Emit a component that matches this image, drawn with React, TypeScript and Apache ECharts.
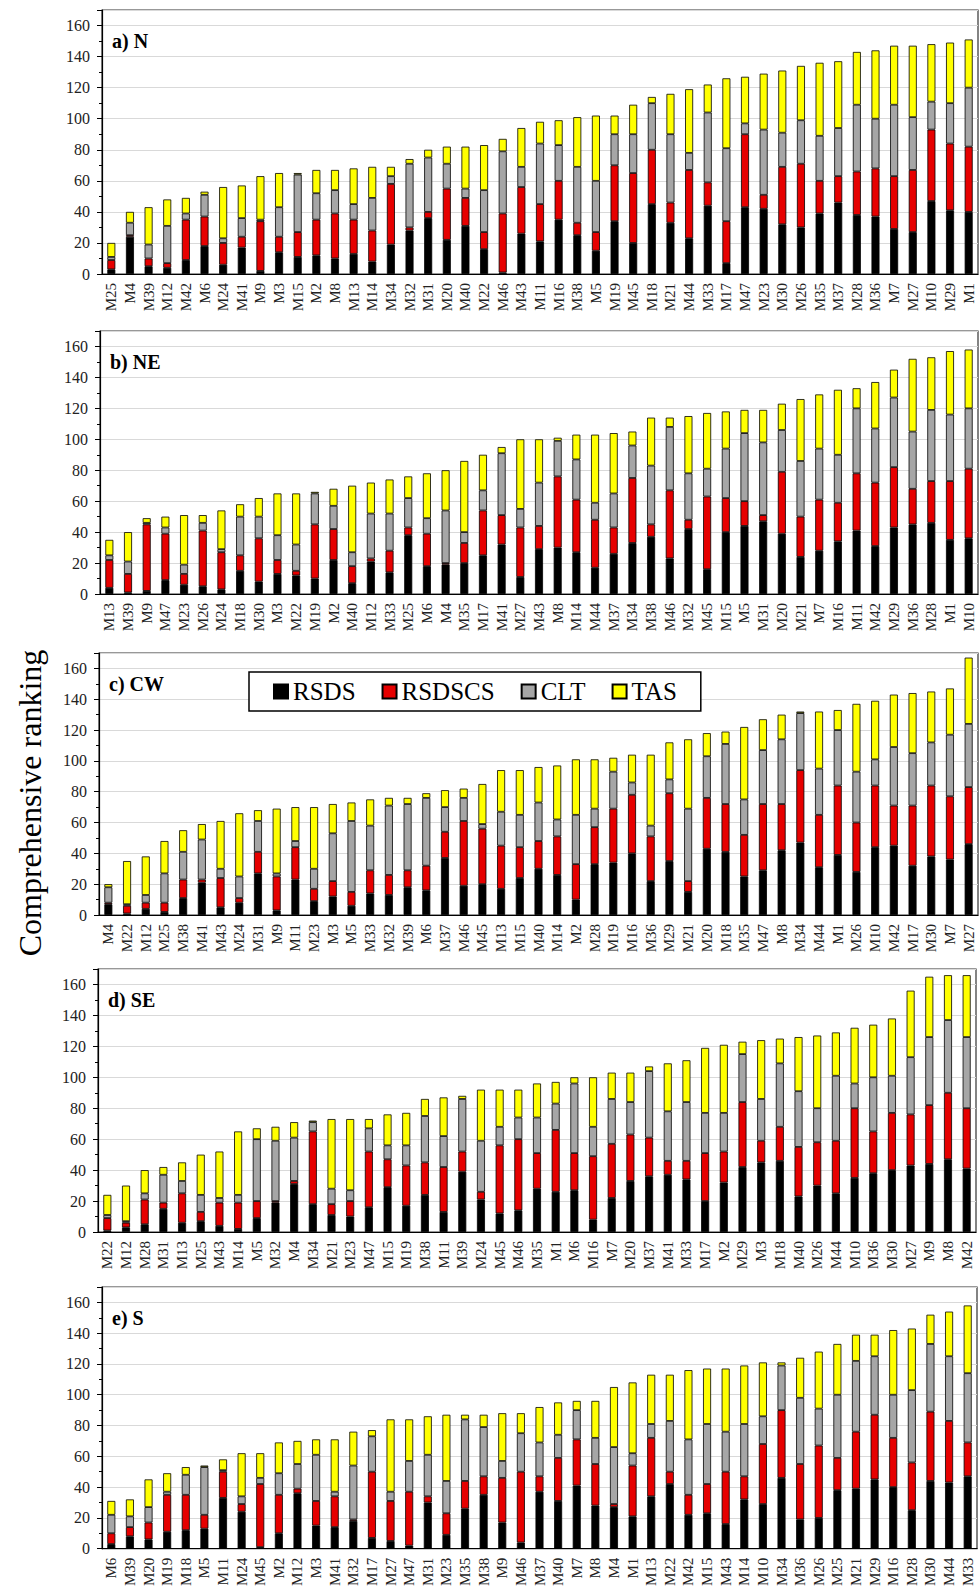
import React, { useEffect, useRef } from "react";
import * as echarts from "echarts";

// ---------- Data (rank contributions, stacked) ----------
// a) N
const catsN = ["M25","M4","M39","M12","M42","M6","M24","M41","M9","M3","M15","M2","M8","M13","M14","M34","M32","M31","M20","M40","M22","M46","M43","M11","M16","M38","M5","M19","M45","M18","M21","M44","M33","M17","M47","M23","M30","M26","M35","M37","M28","M36","M7","M27","M10","M29","M1"];
const rsdsN = [3,24,5,4,9,18,6,17,2,14,11,12,10,13,8,19,28,36,22,31,16,1,26,21,35,25,15,34,20,45,33,23,44,7,43,42,32,30,39,46,38,37,29,27,47,41,40];
const rsdscsN = [6,1,5,3,26,19,14,7,32,10,16,23,29,22,20,39,2,4,33,18,11,38,30,24,25,8,12,36,45,35,13,44,15,27,47,9,37,41,21,17,28,31,34,40,46,43,42];
const cltN = [2,8,9,24,4,14,3,12,1,19,37,17,15,10,21,5,41,35,16,6,27,40,13,39,23,36,33,20,25,30,44,11,45,47,7,42,22,28,29,31,43,32,46,34,18,26,38];
const tasN = [9,7,24,17,10,2,33,21,28,22,1,15,13,23,20,6,3,5,11,27,29,8,25,14,16,32,42,12,19,4,26,41,18,45,30,36,40,35,47,43,34,44,38,46,37,39,31];

// b) NE
const catsNE = ["M13","M39","M9","M47","M23","M26","M24","M18","M30","M3","M22","M19","M2","M40","M12","M33","M25","M6","M4","M35","M17","M41","M27","M43","M8","M14","M44","M37","M34","M38","M46","M32","M45","M15","M5","M31","M20","M21","M7","M16","M11","M42","M29","M36","M28","M1","M10"];
const rsdsNE = [4,1,2,9,6,5,3,15,8,13,12,10,22,7,21,14,38,18,19,20,25,32,11,29,30,27,17,26,33,37,23,42,16,40,44,47,39,24,28,34,41,31,43,45,46,35,36];
const rsdscsNE = [18,12,43,30,7,36,24,10,28,9,3,35,20,11,2,14,5,21,1,13,29,19,32,15,46,34,31,17,42,8,44,6,47,22,16,4,40,26,33,25,37,41,39,23,27,38,45];
const cltNE = [3,8,1,4,6,5,2,25,14,16,17,20,15,9,29,24,19,10,34,7,13,40,12,28,23,26,11,22,21,38,41,30,18,32,44,47,27,36,33,31,42,35,45,37,46,43,39];
const tasNE = [10,19,3,7,32,5,25,8,12,27,33,1,11,43,20,22,14,29,26,46,23,4,45,28,2,16,44,39,9,31,6,37,36,24,15,21,17,40,35,42,13,30,18,47,34,41,38];

// c) CW
const catsCW = ["M4","M22","M12","M25","M38","M41","M43","M24","M31","M9","M11","M23","M3","M5","M33","M32","M39","M6","M37","M46","M45","M13","M15","M40","M14","M2","M28","M19","M16","M36","M29","M21","M20","M18","M35","M47","M8","M34","M44","M1","M26","M10","M42","M17","M30","M7","M27"];
const rsdsCW = [7,1,4,2,11,21,5,8,27,3,23,9,12,6,14,13,18,16,37,19,20,17,24,30,26,10,33,34,40,22,35,15,43,41,25,29,42,47,31,39,28,44,45,32,38,36,46];
const rsdscsCW = [1,5,4,6,12,2,19,3,14,22,21,8,10,9,15,13,11,16,17,42,36,28,20,18,25,23,24,35,38,29,44,7,33,31,27,43,30,47,34,45,32,40,26,39,46,41,37];
const cltCW = [10,1,5,19,18,26,6,14,20,2,4,13,31,46,29,45,43,44,16,15,3,22,21,25,11,32,12,24,8,7,9,47,27,39,23,35,42,37,30,36,33,17,38,34,28,40,41];
const tasCW = [2,28,25,21,14,10,31,41,7,42,22,40,19,12,17,5,4,3,11,6,26,27,29,23,35,36,32,9,18,46,24,45,15,8,47,20,16,1,37,13,44,38,34,39,33,30,43];

// d) SE
const catsSE = ["M22","M12","M28","M31","M13","M25","M43","M14","M5","M32","M4","M34","M21","M23","M47","M15","M19","M38","M11","M39","M24","M45","M46","M35","M1","M6","M16","M7","M20","M37","M41","M33","M17","M2","M29","M3","M18","M40","M26","M44","M10","M36","M30","M27","M9","M8","M42"];
const rsdsSE = [1,3,5,15,6,7,4,2,9,19,31,18,11,10,16,29,17,24,13,39,21,12,14,28,26,27,8,22,33,36,37,34,20,32,42,45,46,23,30,25,35,38,40,43,44,47,41];
const rsdscsSE = [8,3,16,4,19,6,15,17,11,1,2,47,7,10,36,18,26,21,29,13,5,44,46,23,40,24,41,35,30,25,9,12,31,20,42,14,22,32,28,34,45,27,37,33,38,43,39];
const cltSE = [2,1,4,18,8,11,3,5,40,39,28,6,10,7,15,9,13,30,20,34,33,12,14,23,17,45,19,29,21,43,32,38,26,25,31,27,41,36,22,42,16,35,24,37,44,47,46];
const tasSE = [13,23,15,5,12,26,30,41,7,9,10,1,45,46,6,20,21,11,25,2,33,24,18,22,14,4,32,17,19,3,31,27,42,44,8,38,16,35,47,28,36,34,37,43,39,29,40];

// e) S
const catsS = ["M6","M39","M20","M19","M18","M5","M11","M24","M45","M2","M12","M3","M41","M32","M17","M27","M47","M31","M23","M35","M38","M9","M46","M37","M40","M7","M8","M4","M1","M13","M22","M42","M15","M43","M14","M10","M34","M36","M26","M25","M21","M29","M16","M28","M30","M44","M33"];
const rsdsS = [3,8,6,11,12,13,33,24,1,10,36,15,14,18,7,5,2,30,9,26,35,17,4,37,31,41,28,27,21,34,42,22,23,16,32,29,46,19,20,38,39,45,40,25,44,43,47];
const rsdscsS = [7,6,11,24,23,9,17,5,41,25,3,16,20,1,43,26,35,4,14,18,12,29,46,10,28,30,27,2,33,38,8,13,19,34,15,39,44,36,47,21,37,42,32,31,45,40,22];
const cltS = [12,7,10,2,13,31,1,5,4,14,16,30,3,35,23,6,20,27,21,40,32,11,25,22,15,19,17,37,8,9,33,36,39,26,34,18,29,43,24,41,46,38,28,47,44,42,45];
const tasS = [9,11,18,12,5,1,7,28,16,20,15,10,34,22,4,47,27,25,43,3,8,31,13,23,21,6,24,39,46,32,30,45,36,41,38,35,2,26,37,33,17,14,42,40,19,29,44];

const seriesNames = ["RSDS", "RSDSCS", "CLT", "TAS"];
const seriesColors = ["#000000", "#e60000", "#a6a6a6", "#ffff00"];
const yTicks = { min: 0, max: 170, interval: 20 };

const panels = [
  { title: "a) N", cats: catsN, vals: [rsdsN, rsdscsN, cltN, tasN] },
  { title: "b) NE", cats: catsNE, vals: [rsdsNE, rsdscsNE, cltNE, tasNE] },
  { title: "c) CW", cats: catsCW, vals: [rsdsCW, rsdscsCW, cltCW, tasCW] },
  { title: "d) SE", cats: catsSE, vals: [rsdsSE, rsdscsSE, cltSE, tasSE] },
  { title: "e) S", cats: catsS, vals: [rsdsS, rsdscsS, cltS, tasS] },
];

// layout (pixels)
const gridBoxes = [
  { left: 102, top: 10, width: 876, height: 264 },
  { left: 100, top: 331, width: 878, height: 263 },
  { left: 99, top: 653, width: 879, height: 262 },
  { left: 98, top: 969, width: 878, height: 263 },
  { left: 102, top: 1287, width: 875, height: 262 },
];

const SERIF = '"Liberation Serif", "Times New Roman", serif';

export default function App() {
  const ref = useRef<HTMLDivElement>(null);
  useEffect(() => {
    document.body.style.margin = "0";
    if (!ref.current) return;
    const chart = echarts.init(ref.current, undefined, { renderer: "svg" });

    const grid = gridBoxes.map((g) => ({
      ...g,
      show: true,
      borderColor: "#333",
      borderWidth: 1.2,
      backgroundColor: "transparent",
    }));

    const xAxis = panels.map((p, i) => ({
      type: "category",
      gridIndex: i,
      data: p.cats,
      axisLine: { show: true, lineStyle: { color: "#000", width: 1.2 } },
      axisTick: { show: false },
      axisLabel: {
        interval: 0,
        rotate: 90,
        margin: 9,
        fontFamily: SERIF,
        fontSize: 15,
        color: "#222",
      },
    }));

    const yAxis = panels.map((_, i) => ({
      type: "value",
      gridIndex: i,
      min: yTicks.min,
      max: yTicks.max,
      interval: yTicks.interval,
      axisLine: { show: true, lineStyle: { color: "#000", width: 1.2 } },
      axisTick: { show: true, length: 5, lineStyle: { color: "#000" } },
      minorTick: { show: true, splitNumber: 2, length: 3, lineStyle: { color: "#000" } },
      splitLine: { show: true, lineStyle: { color: "#d9d9d9", width: 1 } },
      axisLabel: {
        showMaxLabel: false,
        margin: 12,
        fontFamily: SERIF,
        fontSize: 16,
        color: "#222",
      },
    }));

    const series: any[] = [];
    panels.forEach((p, i) => {
      seriesNames.forEach((name, k) => {
        series.push({
          type: "bar",
          name,
          xAxisIndex: i,
          yAxisIndex: i,
          stack: "panel" + i,
          data: p.vals[k],
          barWidth: 8,
          itemStyle: { color: seriesColors[k], borderColor: "#000", borderWidth: 0.8 },
          emphasis: { disabled: true },
        });
      });
    });

    const title = panels.map((p, i) => ({
      text: p.title,
      left: gridBoxes[i].left + 10,
      top: gridBoxes[i].top + 21,
      padding: 0,
      textStyle: { fontFamily: SERIF, fontWeight: "bold", fontSize: 20, color: "#000" },
    }));

    chart.setOption({
      animation: false,
      backgroundColor: "#fff",
      title,
      grid,
      xAxis,
      yAxis,
      series,
      legend: {
        data: seriesNames,
        left: 249,
        top: 672,
        orient: "horizontal",
        icon: "rect",
        itemWidth: 14,
        itemHeight: 14,
        itemGap: 26,
        padding: [7, 24, 7, 24],
        backgroundColor: "#fff",
        borderColor: "#000",
        borderWidth: 1.5,
        textStyle: { fontFamily: SERIF, fontSize: 25, color: "#000" },
      },
      graphic: [
        {
          type: "text",
          x: 30,
          y: 803,
          rotation: Math.PI / 2,
          style: {
            text: "Comprehensive ranking",
            font: '32px "Liberation Serif"',
            fill: "#000",
            align: "center",
            verticalAlign: "middle",
          },
        },
      ],
    });

    return () => chart.dispose();
  }, []);

  return <div ref={ref} style={{ width: 980, height: 1589 }} />;
}
